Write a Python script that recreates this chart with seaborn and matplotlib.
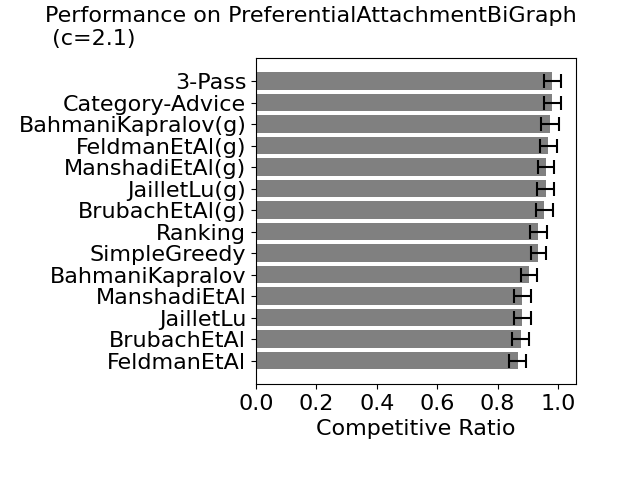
import matplotlib
matplotlib.use("Agg")
import matplotlib.pyplot as plt
import seaborn as sns

algorithms = ["3-Pass", "Category-Advice", "BahmaniKapralov(g)", "FeldmanEtAl(g)",
              "ManshadiEtAl(g)", "JailletLu(g)", "BrubachEtAl(g)", "Ranking",
              "SimpleGreedy", "BahmaniKapralov", "ManshadiEtAl", "JailletLu",
              "BrubachEtAl", "FeldmanEtAl"]
ratio_mean = [0.981, 0.981, 0.972, 0.968, 0.959, 0.959, 0.955, 0.935,
              0.935, 0.905, 0.882, 0.882, 0.876, 0.866]
ratio_std = [0.028, 0.028, 0.030, 0.029, 0.026, 0.029, 0.029, 0.027,
             0.026, 0.026, 0.027, 0.027, 0.028, 0.028]

fig, ax = plt.subplots(figsize=(6.4, 4.8), dpi=100)
sns.barplot(x=ratio_mean, y=algorithms, color="gray", saturation=1, orient="h", ax=ax)
ax.errorbar(ratio_mean, range(len(algorithms)), xerr=ratio_std, fmt="none",
            ecolor="black", capsize=5, elinewidth=1.5, capthick=1.5)

ax.set_xlabel("Competitive Ratio", fontsize=16)
ax.set_ylabel("")
ax.tick_params(labelsize=16)
ax.set_xticks([0.0, 0.2, 0.4, 0.6, 0.8, 1.0])
fig.text(0.07, 0.988, "Performance on PreferentialAttachmentBiGraph\n (c=2.1)",
         ha="left", va="top", fontsize=16)
fig.subplots_adjust(left=0.4, right=0.9, top=0.88, bottom=0.2)
fig.savefig("out.png")
